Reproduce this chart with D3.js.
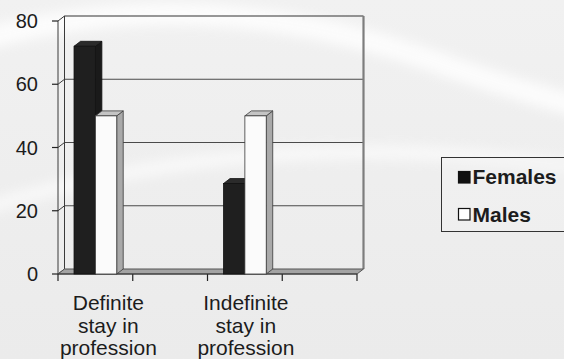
<!DOCTYPE html>
<html><head><meta charset="utf-8">
<script src="https://cdn.jsdelivr.net/npm/d3@7"></script>
<style>
html,body{margin:0;padding:0;background:#ededed;}
svg{display:block;font-family:"Liberation Sans",Arial,sans-serif;}
</style></head>
<body><svg id="c" width="564" height="359"></svg>
<script>
// ---- data ----
const categories = ["Definite stay in profession", "blank1", "Indefinite stay in profession", "blank2"];
const categoryLabels = [["Definite","stay in","profession"], [], ["Indefinite","stay in","profession"], []];
const seriesNames = ["Females", "Males"];
const females = [72, null, 28.6, null];
const males = [50, null, 50, null];
const yTicks = [0, 20, 40, 60, 80];

// ---- styles ----
const svg = d3.select("#c");
const W = 564, H = 359;
const depth = {dx: 6.5, dy: -5};
const colors = {
  Females: {front: "#1f1f1f", side: "#1a1a1a", top: "#2b2b2b", stroke: "#111"},
  Males: {front: "#fbfbfb", side: "#a9a9a9", top: "#c4c4c4", stroke: "#3a3a3a"}
};

// background
const defs = svg.append("defs");
const bg = defs.append("linearGradient").attr("id","bg").attr("x1",0).attr("y1",0).attr("x2",0).attr("y2",1);
bg.append("stop").attr("offset","0%").attr("stop-color","#f1f1f1");
bg.append("stop").attr("offset","100%").attr("stop-color","#ebebeb");
const blur = defs.append("filter").attr("id","blur").attr("x","-20%").attr("y","-50%").attr("width","140%").attr("height","200%");
blur.append("feGaussianBlur").attr("stdDeviation",6);
svg.append("rect").attr("width",W).attr("height",H).attr("fill","url(#bg)");
svg.append("path").attr("d","M-20,40 Q200,-20 430,60 T600,90").attr("fill","none")
  .attr("stroke","#ffffff").attr("stroke-width",22).attr("opacity",0.8).attr("filter","url(#blur)");
svg.append("path").attr("d","M-20,210 Q260,120 600,170").attr("fill","none")
  .attr("stroke","#ffffff").attr("stroke-width",14).attr("opacity",0.6).attr("filter","url(#blur)");

// scales
const x = d3.scaleBand().domain(categories).range([58, 357]).padding(0);
const y = d3.scaleLinear().domain([0, 80]).range([274, 21]);
const x0 = x.range()[0], x1 = x.range()[1];
const y0 = y(0);

const g = svg.append("g");

// gridlines on back wall + left wall diagonals
yTicks.filter(v => v > 0 && v < 80).forEach(v => {
  g.append("line").attr("x1", x0 + depth.dx).attr("x2", x1 + depth.dx)
    .attr("y1", y(v) + depth.dy).attr("y2", y(v) + depth.dy)
    .attr("stroke", "#4a4a4a").attr("stroke-width", 1.2);
});
yTicks.forEach(v => {
  g.append("line").attr("x1", x0).attr("y1", y(v)).attr("x2", x0 + depth.dx).attr("y2", y(v) + depth.dy)
    .attr("stroke", "#3a3a3a").attr("stroke-width", 1);
});
// top edge of back wall
g.append("line").attr("x1", x0 + depth.dx).attr("x2", x1 + depth.dx)
  .attr("y1", y(80) + depth.dy).attr("y2", y(80) + depth.dy).attr("stroke", "#333").attr("stroke-width", 1.2);
// right edge of back wall
g.append("line").attr("x1", x1 + depth.dx).attr("x2", x1 + depth.dx)
  .attr("y1", y(80) + depth.dy).attr("y2", y0 + depth.dy).attr("stroke", "#7d7d7d").attr("stroke-width", 2.2);
// left wall verticals
g.append("line").attr("x1", x0 + depth.dx).attr("x2", x0 + depth.dx)
  .attr("y1", y(80) + depth.dy).attr("y2", y0 + depth.dy).attr("stroke", "#3a3a3a").attr("stroke-width", 1);
g.append("line").attr("x1", x0).attr("x2", x0)
  .attr("y1", y(80)).attr("y2", y0).attr("stroke", "#3a3a3a").attr("stroke-width", 1);

// floor
g.append("polygon")
  .attr("points", [[x0, y0], [x0 + depth.dx, y0 + depth.dy], [x1 + depth.dx, y0 + depth.dy], [x1, y0]].map(p => p.join(",")).join(" "))
  .attr("fill", "#a3a3a3").attr("stroke", "#555").attr("stroke-width", 1);

// y axis ticks & labels
yTicks.forEach(v => {
  g.append("line").attr("x1", x0 - 6).attr("x2", x0).attr("y1", y(v)).attr("y2", y(v))
    .attr("stroke", "#222").attr("stroke-width", 1.2);
  g.append("text").attr("x", x0 - 20).attr("y", y(v)).attr("dy", "0.36em")
    .attr("text-anchor", "end").attr("font-size", 20).attr("fill", "#1c1c1c").text(v);
});

// x axis ticks
const xTickPos = categories.map(c => x(c)).concat([x1]);
xTickPos.forEach(px => {
  g.append("line").attr("x1", px).attr("x2", px).attr("y1", y0).attr("y2", y0 + 7)
    .attr("stroke", "#222").attr("stroke-width", 1.2);
});
g.append("line").attr("x1", x0).attr("x2", x1).attr("y1", y0).attr("y2", y0).attr("stroke", "#333").attr("stroke-width", 1);

// bars
const bw = x.bandwidth() / 3.5;
function drawBar(cx, v, col) {
  const yt = y(v);
  const bg2 = g.append("g");
  bg2.append("polygon")
    .attr("points", [[cx + bw, yt], [cx + bw + depth.dx, yt + depth.dy], [cx + bw + depth.dx, y0 + depth.dy], [cx + bw, y0]].map(p => p.join(",")).join(" "))
    .attr("fill", col.side).attr("stroke", col.stroke).attr("stroke-width", 0.8);
  bg2.append("polygon")
    .attr("points", [[cx, yt], [cx + depth.dx, yt + depth.dy], [cx + bw + depth.dx, yt + depth.dy], [cx + bw, yt]].map(p => p.join(",")).join(" "))
    .attr("fill", col.top).attr("stroke", col.stroke).attr("stroke-width", 0.8);
  bg2.append("rect").attr("x", cx).attr("y", yt).attr("width", bw).attr("height", y0 - yt)
    .attr("fill", col.front).attr("stroke", col.stroke).attr("stroke-width", 0.8);
}
categories.forEach((c, i) => {
  const start = x(c) + 0.75 * bw;
  if (females[i] != null) drawBar(start, females[i], colors.Females);
  if (males[i] != null) drawBar(start + bw, males[i], colors.Males);
});

// category labels
const labelDx = [13, 0, 1, 0];
categories.forEach((c, i) => {
  const t = g.append("text").attr("text-anchor", "middle").attr("font-size", 21).attr("fill", "#1c1c1c");
  categoryLabels[i].forEach((line, j) => {
    t.append("tspan").attr("x", x(c) + x.bandwidth() / 2 + labelDx[i]).attr("y", 310 + j * 22.5).text(line);
  });
});

// legend
const lg = svg.append("g").attr("transform", "translate(441,157)");
lg.append("rect").attr("x", 0.5).attr("y", 0.5).attr("width", 140).attr("height", 74)
  .attr("fill", "#f2f2f2").attr("fill-opacity", 0.4).attr("stroke", "#333").attr("stroke-width", 1);
seriesNames.forEach((s, i) => {
  lg.append("rect").attr("x", 17.5).attr("y", 14.5 + i * 37).attr("width", 11.5).attr("height", 11.5)
    .attr("fill", s === "Females" ? "#111" : "#fff").attr("stroke", "#111").attr("stroke-width", 1.2);
  lg.append("text").attr("x", 31.5).attr("y", 27 + i * 38).attr("font-size", 21).attr("font-weight", "bold")
    .attr("fill", "#1c1c1c").text(s);
});
</script></body></html>
